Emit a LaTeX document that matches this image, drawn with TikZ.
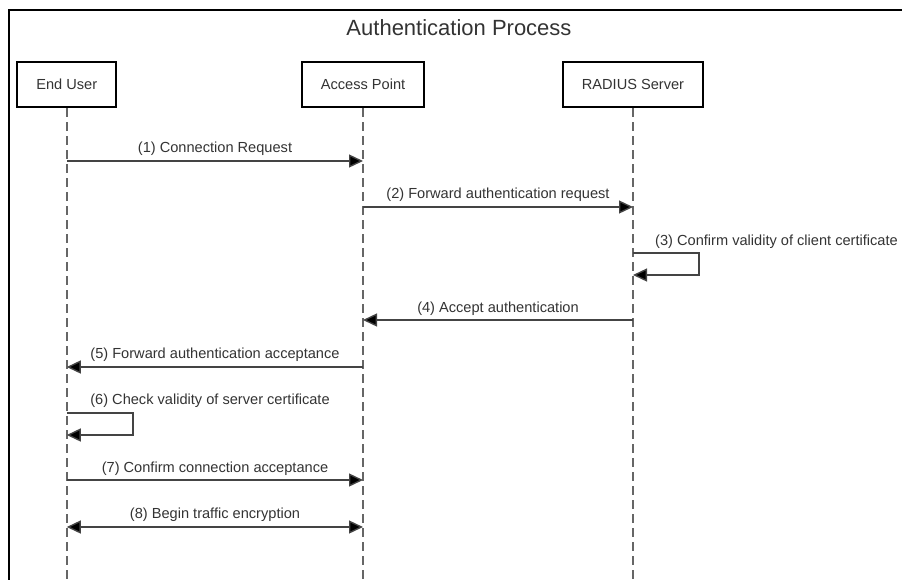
\documentclass[tikz,border=0pt]{standalone}
\usepackage{fontspec}
\setmainfont{Liberation Sans}
\usetikzlibrary{arrows.meta}
\definecolor{linegray}{HTML}{444444}
\definecolor{txtgray}{HTML}{333333}
\definecolor{lifegray}{HTML}{666666}
\begin{document}
\begin{tikzpicture}[x=1pt,y=-1pt,
  actor/.style={draw=black,line width=2pt,minimum height=45pt,inner sep=0pt,font=\fontsize{14.6}{17}\selectfont,text=txtgray},
  lifeline/.style={draw=lifegray,line width=1.8pt,dash pattern=on 9pt off 5pt},
  tip/.style={-{Triangle[length=14pt,width=13pt,fill=black]}},
  msg/.style={draw=linegray,line width=1.4pt,tip},
  bimsg/.style={draw=linegray,line width=1.4pt,{Triangle[length=14pt,width=13pt,fill=black]}-{Triangle[length=14pt,width=13pt,fill=black]}},
  lbl/.style={font=\fontsize{14.6}{17}\selectfont,text=txtgray,inner sep=0pt}]
\useasboundingbox (0,0) rectangle (902,579);
% frame
\draw[line width=2pt,black] (9,590) -- (9,9.5) -- (910,9.5);
\node[font=\fontsize{22}{26}\selectfont,text=txtgray] (title) at (459,28) {Authentication Process};
% actors
\node[actor,minimum width=99pt] (eu) at (66.75,84.5) {End User};
\node[actor,minimum width=122pt] (ap) at (363,84.5) {Access Point};
\node[actor,minimum width=140pt] (rs) at (633,84.5) {RADIUS Server};
% lifeline ends
\coordinate (euend) at (eu.south |- 0,585);
\coordinate (apend) at (ap.south |- 0,585);
\coordinate (rsend) at (rs.south |- 0,585);
\draw[lifeline] (eu.south) -- (euend);
\draw[lifeline] (ap.south) -- (apend);
\draw[lifeline] (rs.south) -- (rsend);
% message points
\coordinate (eu1) at (66.75,161); \coordinate (ap1) at (363,161);
\coordinate (ap2) at (363,207); \coordinate (rs2) at (633,207);
\coordinate (rs3a) at (633,253); \coordinate (rs3b) at (699,253);
\coordinate (rs3c) at (699,275); \coordinate (rs3d) at (633,275);
\coordinate (rs4) at (633,320); \coordinate (ap4) at (363,320);
\coordinate (ap5) at (363,367); \coordinate (eu5) at (66.75,367);
\coordinate (eu6a) at (66.75,413); \coordinate (eu6b) at (133,413);
\coordinate (eu6c) at (133,435); \coordinate (eu6d) at (66.75,435);
\coordinate (eu7) at (66.75,480); \coordinate (ap7) at (363,480);
\coordinate (eu8) at (66.75,527); \coordinate (ap8) at (363,527);
% messages
\draw[msg] (eu1) -- (ap1);
\node[lbl] (l1) at (215,149) {(1) Connection Request};
\draw[msg] (ap2) -- (rs2);
\node[lbl] (l2) at (498,195) {(2) Forward authentication request};
\draw[msg] (rs3a) -- (rs3b) -- (rs3c) -- (rs3d);
\node[lbl,anchor=west] (l3) at (655,242) {(3) Confirm validity of client certificate};
\draw[msg] (rs4) -- (ap4);
\node[lbl] (l4) at (498,309) {(4) Accept authentication};
\draw[msg] (ap5) -- (eu5);
\node[lbl] (l5) at (215,355) {(5) Forward authentication acceptance};
\draw[msg] (eu6a) -- (eu6b) -- (eu6c) -- (eu6d);
\node[lbl] (l6) at (210,401) {(6) Check validity of server certificate};
\draw[msg] (eu7) -- (ap7);
\node[lbl] (l7) at (215,469) {(7) Confirm connection acceptance};
\draw[bimsg] (eu8) -- (ap8);
\node[lbl] (l8) at (215,515) {(8) Begin traffic encryption};
\end{tikzpicture}
\end{document}
